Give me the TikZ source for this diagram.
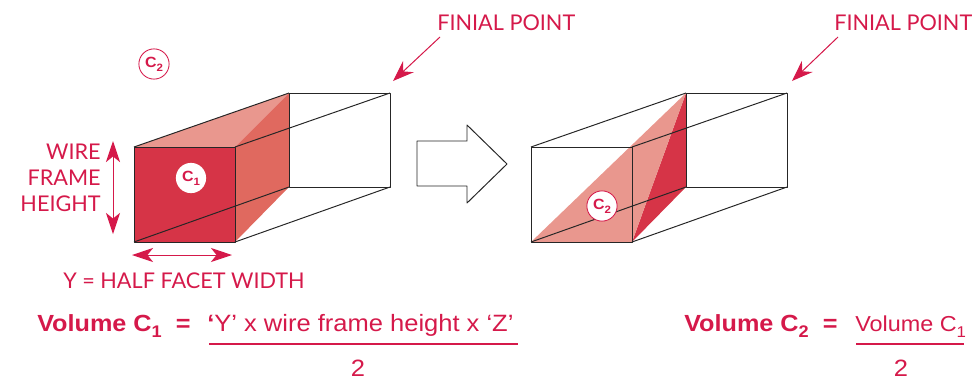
\documentclass[tikz,border=0pt]{standalone}
\usepackage{fontspec}
\setmainfont{Lato}[BoldFont=Lato Black]
\newfontfamily\formulafont{Liberation Sans}[FakeStretch=1.08]
\usetikzlibrary{arrows.meta}
\definecolor{markred}{HTML}{D5194A}
\definecolor{facedark}{HTML}{D63447}
\definecolor{facemid}{HTML}{E0695F}
\definecolor{facelight}{HTML}{E9978E}
\newcommand{\lowidx}[1]{\raisebox{-0.28em}{\scalebox{0.72}{#1}}}
\tikzset{
	wire/.style={draw=black!85, line width=0.7pt, line join=round},
	marklabel/.style={text=markred, font=\fontsize{15.4}{18.5}\selectfont, inner sep=0pt},
	formula/.style={text=markred, font=\fontsize{16.8}{19}\selectfont\formulafont, inner sep=0pt},
	volume/.style={text=markred, font=\fontsize{16.6}{19}\selectfont\formulafont\bfseries, inner sep=0pt},
	pointer/.style={draw=markred, fill=markred, line width=0.7pt, -{Stealth[length=15pt, width=11pt, inset=5pt]}},
	measure/.style={draw=markred, fill=markred, line width=0.7pt, {Stealth[length=15pt, width=10pt, inset=4pt]}-{Stealth[length=15pt, width=10pt, inset=4pt]}},
	badge/.style={circle, draw=markred, fill=white, minimum size=21.5pt, inner sep=0pt, line width=0.6pt, text=markred, font=\fontsize{10.5}{11}\selectfont\formulafont\bfseries},
}
\begin{document}
\begin{tikzpicture}[x=0.025cm, y=-0.025cm]
	\useasboundingbox (0,0) rectangle (973,383);
	
	% --- LEFT WIRE FRAME ---
	\fill[facelight] (134,147) -- (289,93) -- (235,147) -- cycle;
	\fill[facemid] (235,147) -- (289,93) -- (289,187) -- (235,242) -- cycle;
	\fill[facedark] (134,147) rectangle (235,242);
	\draw[wire] (134,147) rectangle (235,242);
	\draw[wire] (289,93) rectangle (390,187);
	\draw[wire] (134,147) -- (289,93);
	\draw[wire] (235,147) -- (390,93);
	\draw[wire] (134,242) -- (289,187);
	\draw[wire] (235,242) -- (390,187);
	
	% --- RIGHT WIRE FRAME ---
	\fill[facedark] (686,93) -- (686,187) -- (632,242) -- cycle;
	\fill[facelight] (531,242) -- (686,93) -- (632,242) -- cycle;
	\draw[wire] (531,147) rectangle (632,242);
	\draw[wire] (686,93) rectangle (787,187);
	\draw[wire] (531,147) -- (686,93);
	\draw[wire] (632,147) -- (787,93);
	\draw[wire] (531,242) -- (686,187);
	\draw[wire] (632,242) -- (787,187);
	
	% --- BLOCK ARROW ---
	\draw[wire, fill=white] (417,141) -- (467,141) -- (467,125) -- (507,164) -- (467,203) -- (467,186) -- (417,186) -- cycle;
	
	% --- BADGES ---
	\node[badge] (badgeA) at (154,64) {C\lowidx{2}};
	\node[badge, draw=none] (badgeB) at (191,178) {C\lowidx{1}};
	\node[badge] (badgeC) at (602,206) {C\lowidx{2}};
	
	% --- LABELS ---
	\node[marklabel, align=right, anchor=east] (heightlabel) at (101,177.5) {WIRE\\FRAME\\HEIGHT};
	\node[marklabel, anchor=west] (widthlabel) at (63,281) {Y = HALF FACET WIDTH};
	\node[marklabel, anchor=west] (finialA) at (437,23) {FINIAL POINT};
	\node[marklabel, anchor=west] (finialB) at (834,23) {FINIAL POINT};
	
	% --- POINTERS ---
	\coordinate (finialAend) at (393,81);
	\coordinate (finialBend) at (792,81);
	\coordinate (finialAstart) at (440,37);
	\coordinate (finialBstart) at (838,37);
	\draw[pointer] (finialAstart) -- (finialAend);
	\draw[pointer] (finialBstart) -- (finialBend);
	
	% --- DIMENSIONS ---
	\coordinate (heighttop) at (113,141);
	\coordinate (heightbot) at (113,234);
	\coordinate (widthleft) at (132,255);
	\coordinate (widthright) at (232,255);
	\draw[measure] (heighttop) -- (heightbot);
	\draw[measure] (widthleft) -- (widthright);
	
	% --- FORMULAS ---
	\node[volume, anchor=base west] (volumeA) at (37,331) {Volume C\lowidx{1}\hspace{10pt}=};
	\node[formula, anchor=base west] (numeratorA) at (207,331) {\textbf{‘}Y’ x wire frame height x ‘Z’};
	\node[formula] (denominatorA) at (358,368) {2};
	\coordinate (ruleAleft) at (209,344);
	\coordinate (ruleAright) at (518,344);
	\draw[draw=markred, line width=0.8pt] (ruleAleft) -- (ruleAright);
	
	\node[volume, anchor=base west] (volumeB) at (684,331) {Volume C\lowidx{2}\hspace{10pt}=};
	\node[formula, anchor=base west, font=\fontsize{15.4}{19}\selectfont\formulafont] (numeratorB) at (855,331) {Volume C\lowidx{1}};
	\node[formula] (denominatorB) at (901,368) {2};
	\coordinate (ruleBleft) at (856,344);
	\coordinate (ruleBright) at (964,344);
	\draw[draw=markred, line width=0.8pt] (ruleBleft) -- (ruleBright);
	
\end{tikzpicture}
\end{document}
